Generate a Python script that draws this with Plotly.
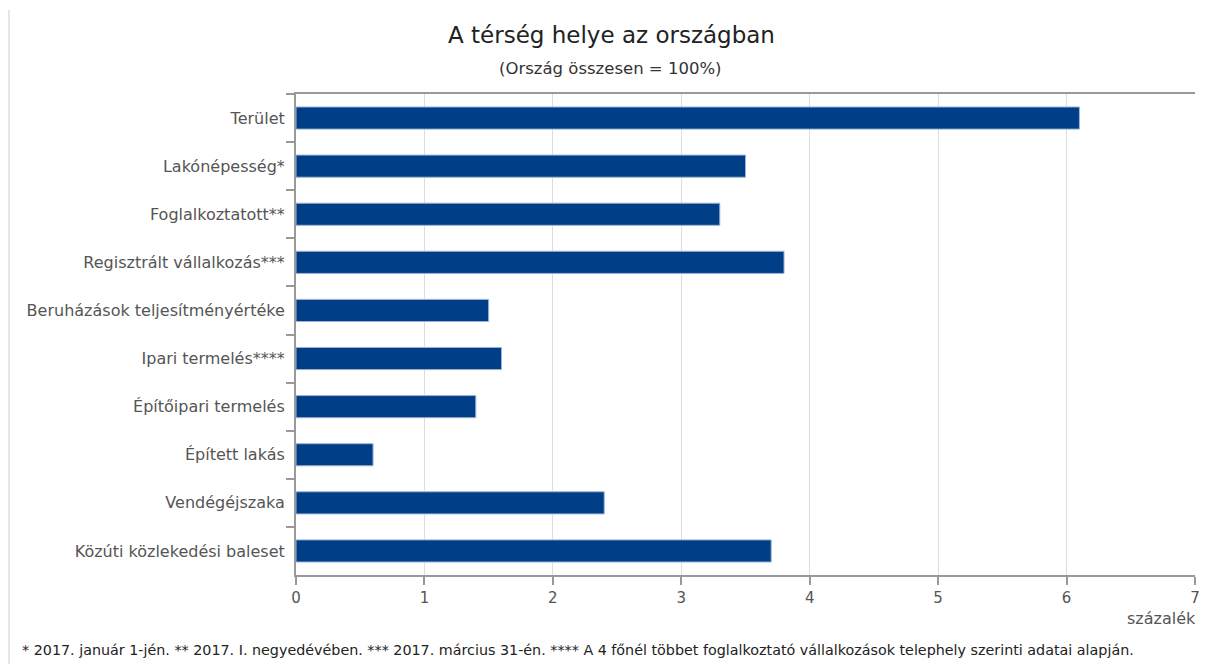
import plotly.graph_objects as go

categories = [
    "Terület",
    "Lakónépesség*",
    "Foglalkoztatott**",
    "Regisztrált vállalkozás***",
    "Beruházások teljesítményértéke",
    "Ipari termelés****",
    "Építőipari termelés",
    "Épített lakás",
    "Vendégéjszaka",
    "Közúti közlekedési baleset",
]
values = [6.1, 3.5, 3.3, 3.8, 1.5, 1.6, 1.4, 0.6, 2.4, 3.7]
x_ticks = [0, 1, 2, 3, 4, 5, 6, 7]

title_text = "A térség helye az országban"
subtitle_text = "(Ország összesen = 100%)"
unit_text = "százalék"
footnote_text = ("* 2017. január 1-jén. ** 2017. I. negyedévében. *** 2017. március 31-én. "
                 "**** A 4 főnél többet foglalkoztató vállalkozások telephely szerinti adatai alapján.")

FONT = "DejaVu Sans"

W, H = 1206, 664
ML, MR, MT, MB = 296, 11, 94, 89
plot_w = W - ML - MR
plot_h = H - MT - MB


def px_x(px):
    return (px - ML) / plot_w


def px_y(py):
    return (H - MB - py) / plot_h


fig = go.Figure()
fig.add_trace(go.Bar(
    x=values,
    y=categories,
    orientation="h",
    marker=dict(color="#003f88", line=dict(color="#9ab4d8", width=1)),
    hoverinfo="x+y",
))

fig.update_layout(
    width=W,
    height=H,
    margin=dict(l=ML, r=MR, t=MT, b=MB, autoexpand=False),
    paper_bgcolor="white",
    plot_bgcolor="white",
    showlegend=False,
    bargap=0.54,
    font=dict(family=FONT, size=13, color="#333333"),
    xaxis=dict(
        range=[0, 7],
        tickvals=x_ticks,
        ticktext=[str(t) for t in x_ticks],
        automargin=False,
        showgrid=True,
        gridcolor="#dedede",
        gridwidth=1,
        zeroline=False,
        showline=True,
        linecolor="#999999",
        linewidth=2,
        mirror=True,
        ticks="outside",
        ticklen=8,
        tickwidth=2,
        tickcolor="#999999",
        tickfont=dict(family=FONT, size=15, color="#555555"),
        fixedrange=True,
    ),
    yaxis=dict(
        categoryorder="array",
        categoryarray=categories,
        autorange="reversed",
        automargin=False,
        showline=True,
        linecolor="#999999",
        linewidth=2,
        ticks="outside",
        tickson="boundaries",
        ticklen=8,
        tickwidth=2,
        tickcolor="#999999",
        showgrid=False,
        ticklabelstandoff=6,
        tickfont=dict(family=FONT, size=16, color="#555555"),
        fixedrange=True,
    ),
    annotations=[
        dict(text=title_text, x=px_x(611), y=px_y(35), xref="paper", yref="paper",
             showarrow=False, yanchor="middle",
             font=dict(family=FONT, size=23, color="#222222")),
        dict(text=subtitle_text, x=px_x(610), y=px_y(68), xref="paper", yref="paper",
             showarrow=False, yanchor="middle",
             font=dict(family=FONT, size=16.5, color="#333333")),
        dict(text=unit_text, x=px_x(1198), y=px_y(618), xref="paper", yref="paper",
             showarrow=False, xanchor="right", yanchor="middle",
             font=dict(family=FONT, size=16, color="#555555")),
        dict(text=footnote_text, x=px_x(20), y=px_y(650), xref="paper", yref="paper",
             showarrow=False, xanchor="left", yanchor="middle",
             font=dict(family=FONT, size=14.3, color="#222222")),
    ],
)

# light container border on the left
fig.add_shape(type="line", xref="paper", yref="paper",
              x0=px_x(9), x1=px_x(9), y0=px_y(10), y1=px_y(664),
              line=dict(color="#e6e6e6", width=2))

fig.write_html("out.html", config={"displayModeBar": False},
               post_script="document.body.style.margin='0';")
